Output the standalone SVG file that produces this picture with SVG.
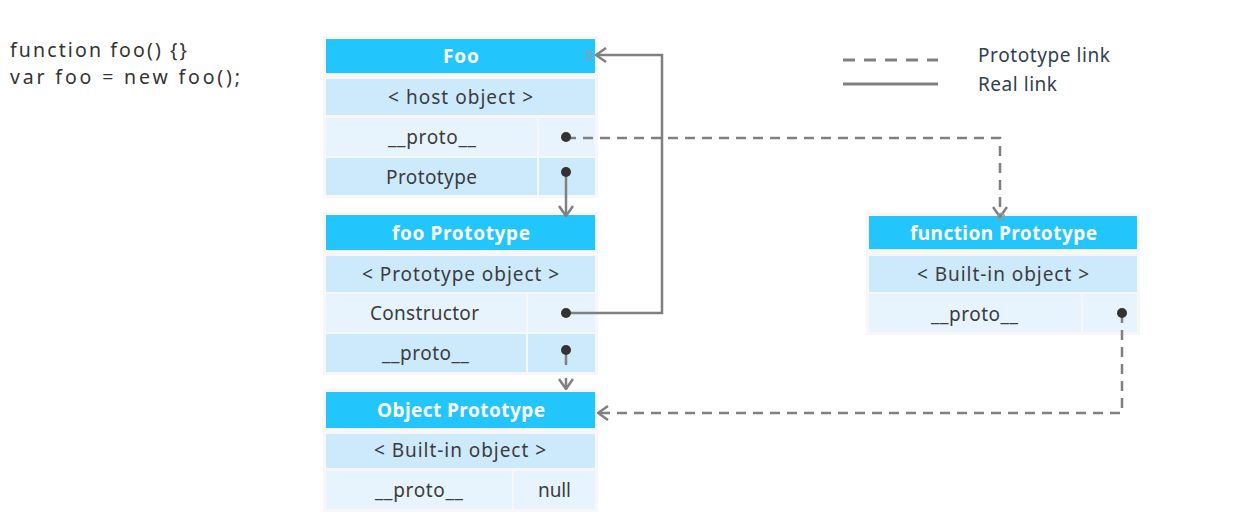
<svg xmlns="http://www.w3.org/2000/svg" width="1245" height="531" viewBox="0 0 1245 531">
<style>
.halo{fill:#f7f7f7}
.hd{fill:#22c6fd}
.l1{fill:#cdeafc}
.l2{fill:#e7f4fd}
.ht{font-family:"Noto Sans","Open Sans",sans-serif;font-size:19px;font-weight:bold;fill:#ffffff;text-anchor:middle}
.rt{font-family:"Noto Sans","Open Sans",sans-serif;font-size:19px;fill:#3c3c3c;text-anchor:middle}
.code{font-family:"Noto Sans","Open Sans",sans-serif;font-size:19.5px;fill:#333333}
.lg{font-family:"Noto Sans","Open Sans",sans-serif;font-size:19px;fill:#2f4152}
.solid{fill:none;stroke:#808080;stroke-width:2.5}
.dash{fill:none;stroke:#808080;stroke-width:2.5;stroke-dasharray:10 7}
.dot{fill:#333333}
.pin{fill:none;stroke:#8c9ca4;stroke-width:1.6}
</style>
<defs>
<marker id="arr" viewBox="0 0 12 16" refX="11" refY="8" markerWidth="12" markerHeight="16" orient="auto" markerUnits="userSpaceOnUse">
<path d="M1,1 L11,8 L1,15" fill="none" stroke="#808080" stroke-width="2.5"/>
</marker>
</defs>
<rect width="1245" height="531" fill="#ffffff"/>

<g id="code">
<text class="code" x="10" y="57" textLength="177">function foo() {}</text>
<text class="code" x="10" y="84" textLength="230">var foo = new foo();</text>
</g>

<g id="legend">
<line x1="843" y1="60" x2="938" y2="60" stroke="#808080" stroke-width="3" stroke-dasharray="12 9"/>
<line x1="843" y1="84" x2="938" y2="84" stroke="#808080" stroke-width="3"/>
<text class="lg" x="978" y="62" textLength="132">Prototype link</text>
<text class="lg" x="978" y="91" textLength="79">Real link</text>
</g>

<g id="foo-box">
<rect class="halo" x="323" y="36" width="275" height="162"/>
<rect class="hd" x="326" y="39" width="269" height="34"/>
<rect class="l1" x="326" y="79" width="269" height="36"/>
<rect class="l2" x="326" y="118" width="211" height="38"/>
<rect class="l2" x="539" y="118" width="56" height="38"/>
<rect class="l1" x="326" y="158" width="211" height="37"/>
<rect class="l1" x="539" y="158" width="56" height="37"/>
<text class="ht" x="461" y="63" textLength="36">Foo</text>
<text class="rt" x="460.5" y="104" textLength="145">&lt; host object &gt;</text>
<text class="rt" x="432" y="144" textLength="88">__proto__</text>
<text class="rt" x="431.5" y="184" textLength="91">Prototype</text>
</g>

<g id="fooproto-box">
<rect class="halo" x="323" y="212" width="275" height="163"/>
<rect class="hd" x="326" y="215" width="269" height="35"/>
<rect class="l1" x="326" y="256" width="269" height="36"/>
<rect class="l2" x="326" y="294" width="200" height="38"/>
<rect class="l2" x="528" y="294" width="67" height="38"/>
<rect class="l1" x="326" y="334" width="200" height="38"/>
<rect class="l1" x="528" y="334" width="67" height="38"/>
<text class="ht" x="461" y="240" textLength="138">foo Prototype</text>
<text class="rt" x="460.5" y="281" textLength="197">&lt; Prototype object &gt;</text>
<text class="rt" x="424.5" y="320" textLength="109">Constructor</text>
<text class="rt" x="425.5" y="360" textLength="87">__proto__</text>
</g>

<g id="objproto-box">
<rect class="halo" x="323" y="389" width="275" height="123"/>
<rect class="hd" x="326" y="392" width="269" height="36"/>
<rect class="l1" x="326" y="434" width="269" height="34"/>
<rect class="l2" x="326" y="471" width="186" height="38"/>
<rect class="l2" x="514" y="471" width="81" height="38"/>
<text class="ht" x="461" y="417" textLength="168">Object Prototype</text>
<text class="rt" x="460" y="457" textLength="172">&lt; Built-in object &gt;</text>
<text class="rt" x="419" y="497" textLength="88">__proto__</text>
<text class="rt" x="554.5" y="497" textLength="33">null</text>
</g>

<g id="funcproto-box">
<rect class="halo" x="866" y="213" width="274" height="122"/>
<rect class="hd" x="869" y="216" width="268" height="33"/>
<rect class="l1" x="869" y="256" width="268" height="36"/>
<rect class="l2" x="869" y="294" width="212" height="38"/>
<rect class="l2" x="1083" y="294" width="54" height="38"/>
<text class="ht" x="1003.5" y="240" textLength="187">function Prototype</text>
<text class="rt" x="1003" y="281" textLength="172">&lt; Built-in object &gt;</text>
<text class="rt" x="974.5" y="321" textLength="87">__proto__</text>
</g>

<g id="connectors">
<path class="solid" d="M566,172 V216" marker-end="url(#arr)"/>
<path class="solid" d="M566,313 H662 V55 H596" marker-end="url(#arr)"/>
<ellipse class="pin" cx="589" cy="55" rx="2.5" ry="4.5"/>
<path class="solid" d="M566,350 V365"/>
<path class="solid" d="M566,378 V389" marker-end="url(#arr)"/>
<path class="dash" d="M566,138 H1000 V217" marker-end="url(#arr)"/>
<circle class="pin" cx="1001" cy="217" r="3.5"/>
<path class="dash" d="M1122,313 V413 H598" marker-end="url(#arr)"/>
<circle class="dot" cx="566" cy="137" r="5"/>
<circle class="dot" cx="566" cy="172" r="5"/>
<circle class="dot" cx="566" cy="313" r="5"/>
<circle class="dot" cx="566" cy="350" r="5"/>
<circle class="dot" cx="1122" cy="313" r="5"/>
</g>
</svg>
